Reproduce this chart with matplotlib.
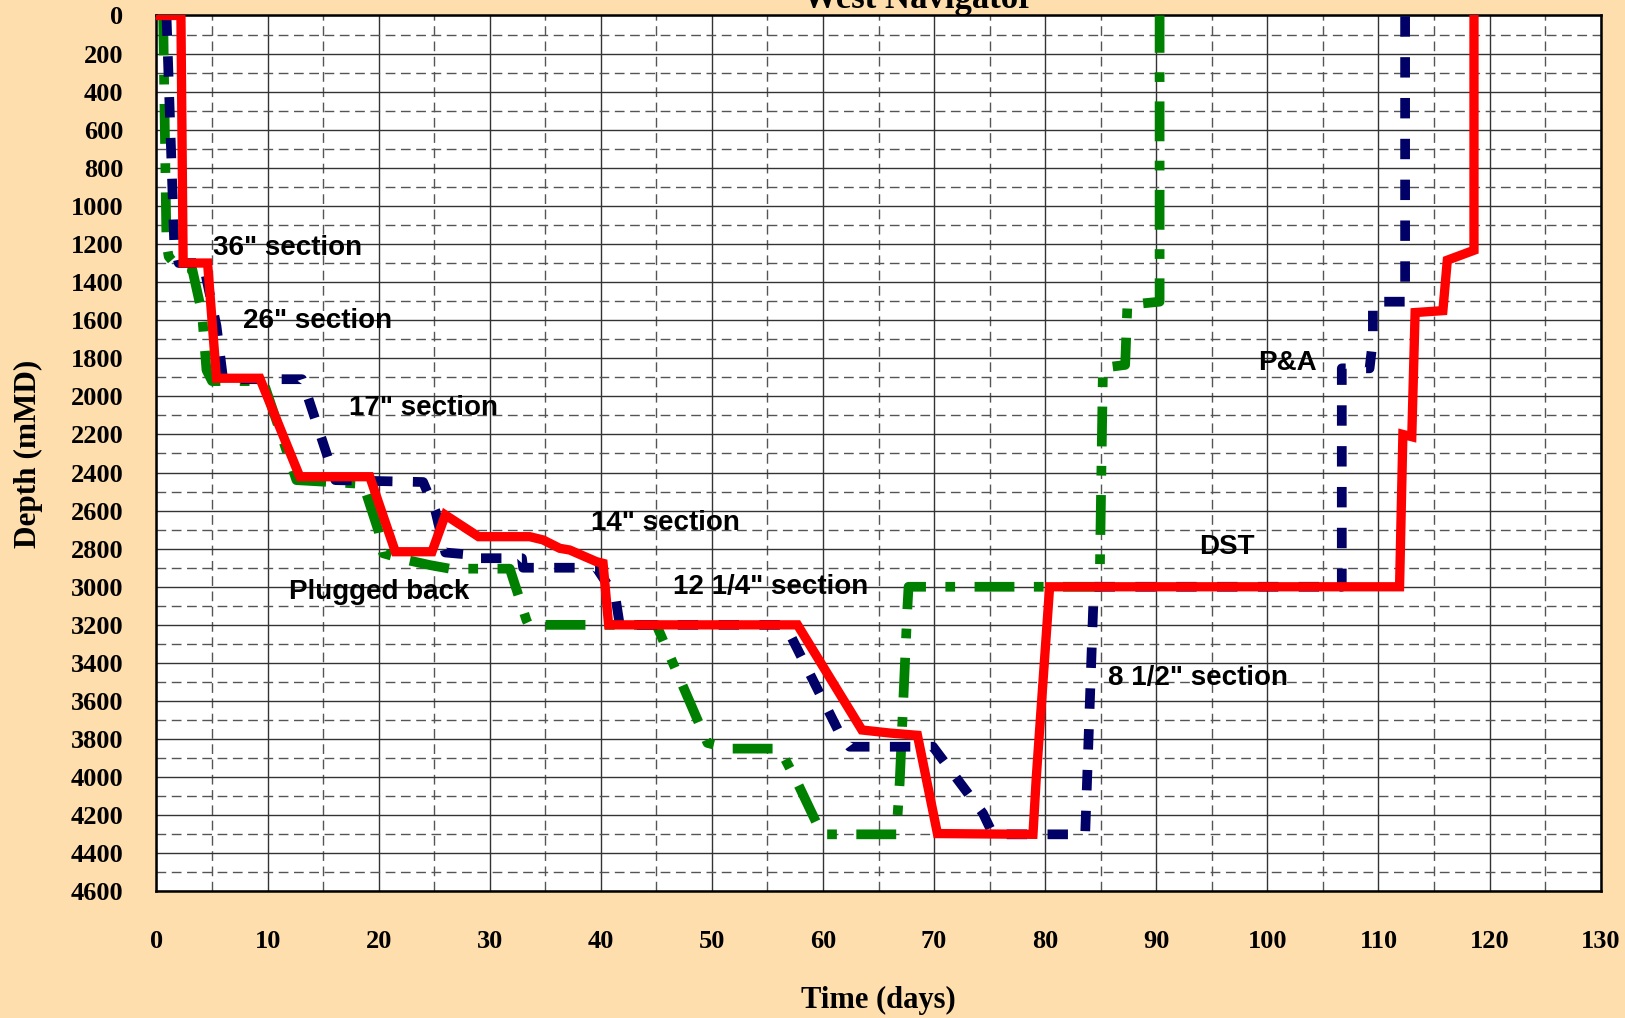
import matplotlib.pyplot as plt
from matplotlib.ticker import MultipleLocator

# well curves: time (days) vs depth (mMD)
red_days = [0, 2.2, 2.4, 4.6, 5.4, 9.3, 12.9, 19.2, 21.5, 24.8, 26.0, 29.0, 33.6, 34.8,
            36.3, 37.2, 39.6, 40.2, 40.7, 57.7, 63.5, 66.0, 68.5, 70.3, 78.9, 79.2,
            80.4, 111.9, 112.2, 113.0, 113.3, 115.8, 116.2, 118.6, 118.6]
red_depth = [0, 0, 1300, 1300, 1905, 1905, 2422, 2422, 2816, 2816, 2623, 2737, 2737, 2754,
             2798, 2807, 2868, 2877, 3200, 3200, 3752, 3768, 3780, 4296, 4300, 4000,
             3000, 3000, 2200, 2212, 1560, 1550, 1285, 1233, 0]

navy_days = [0.9, 1.6, 2.0, 4.2, 5.4, 6.0, 13.1, 16.1, 24.0, 25.1, 26.0, 28.5, 28.6, 32.9,
             33.0, 39.6, 41.3, 41.7, 56.6, 61.5, 62.4, 69.9, 74.4, 75.3, 83.6, 84.3,
             84.4, 106.7, 106.7, 109.2, 109.5, 109.5, 112.4, 112.4]
navy_depth = [0, 1200, 1300, 1300, 1630, 1910, 1910, 2440, 2450, 2600, 2820, 2833, 2850, 2850,
              2900, 2900, 3050, 3200, 3200, 3770, 3840, 3840, 4190, 4300, 4300, 3140,
              3000, 3000, 1853, 1853, 1704, 1503, 1503, 0]

green_days = [0.6, 0.9, 1.1, 2.0, 3.2, 4.1, 4.5, 5.0, 9.6, 12.6, 18.6, 20.0, 20.4, 22.5,
              24.6, 26.4, 31.8, 33.3, 33.5, 45.0, 49.6, 51.6, 56.1, 57.7, 59.9, 66.6,
              66.9, 67.6, 67.7, 84.9, 85.2, 87.2, 87.4, 90.3, 90.3]
green_depth = [0, 1200, 1266, 1328, 1328, 1564, 1862, 1920, 1920, 2440, 2460, 2710, 2824, 2859,
               2886, 2905, 2905, 3175, 3200, 3200, 3820, 3850, 3850, 4030, 4300, 4300,
               4030, 3105, 3000, 3000, 1850, 1835, 1520, 1503, 0]

labels = ['36" section', '26" section', '17" section', '14" section', 'Plugged back',
          '12 1/4" section', 'DST', 'P&A', '8 1/2" section']
label_days = [5.1, 7.76, 17.3, 39.1, 11.9, 46.5, 93.86, 99.2, 85.67]
label_depth = [1223, 1603, 2063, 2663, 3027, 3003, 2789, 1826, 3481]

bg = '#FFDEAD'
serif = ['Liberation Serif', 'DejaVu Serif']
sans = ['Liberation Sans', 'DejaVu Sans']

fig = plt.figure(figsize=(16.25, 10.18), dpi=100, facecolor=bg)
ax = fig.add_axes([0.0963, 0.1243, 0.8887, 0.8605])
ax.set_facecolor('white')

ax.set_xlim(0, 130)
ax.set_ylim(4600, 0)
ax.xaxis.set_major_locator(MultipleLocator(10))
ax.xaxis.set_minor_locator(MultipleLocator(5))
ax.yaxis.set_major_locator(MultipleLocator(200))
ax.yaxis.set_minor_locator(MultipleLocator(100))

# grid: solid majors, dashed minors
ax.grid(which='major', color='#333333', linewidth=1.0, linestyle='-', zorder=0)
ax.grid(which='minor', color='#555555', linewidth=1.0, linestyle=(0, (7, 4)), zorder=0)
ax.set_axisbelow(True)

ax.tick_params(which='both', length=0)
ax.tick_params(axis='y', pad=24, labelsize=19)
ax.tick_params(axis='x', pad=28, labelsize=19)
for lab in ax.get_xticklabels() + ax.get_yticklabels():
    lab.set_fontfamily(serif)
    lab.set_fontweight('bold')

for sp in ax.spines.values():
    sp.set_linewidth(1.8)
    sp.set_color('black')

lw = 7
ax.plot(green_days, green_depth, color='#008000', linewidth=lw,
        linestyle=(0, (4.1, 2.0, 1.0, 2.0)), dash_capstyle='butt', zorder=3)
ax.plot(navy_days, navy_depth, color='#000066', linewidth=lw,
        linestyle=(0, (2.1, 2.1)), dash_capstyle='butt', zorder=4)
ax.plot(red_days, red_depth, color='#FF0000', linewidth=6.7,
        solid_joinstyle='miter', zorder=5)

for txt, xd, yd in zip(labels, label_days, label_depth):
    ax.text(xd, yd, txt, fontsize=20, fontweight='bold', family=sans,
            ha='left', va='center', zorder=6)

ax.set_xlabel('Time (days)', fontsize=22, fontweight='bold', family=serif)
ax.set_ylabel('Depth (mMD)', fontsize=22.5, fontweight='bold', family=serif)
ax.xaxis.set_label_coords(0.5, -0.1239)
ax.xaxis.label.set_va('center')
ax.yaxis.set_label_coords(-0.0885, 0.5)
ax.yaxis.label.set_va('center')

# title sits partly above the canvas, as in the original
fig.text(0.5652, 0.9926, 'West Navigator', fontsize=25, fontweight='bold',
         family=serif, ha='center', va='baseline')

fig.savefig('out.png', dpi=100, facecolor=bg)
